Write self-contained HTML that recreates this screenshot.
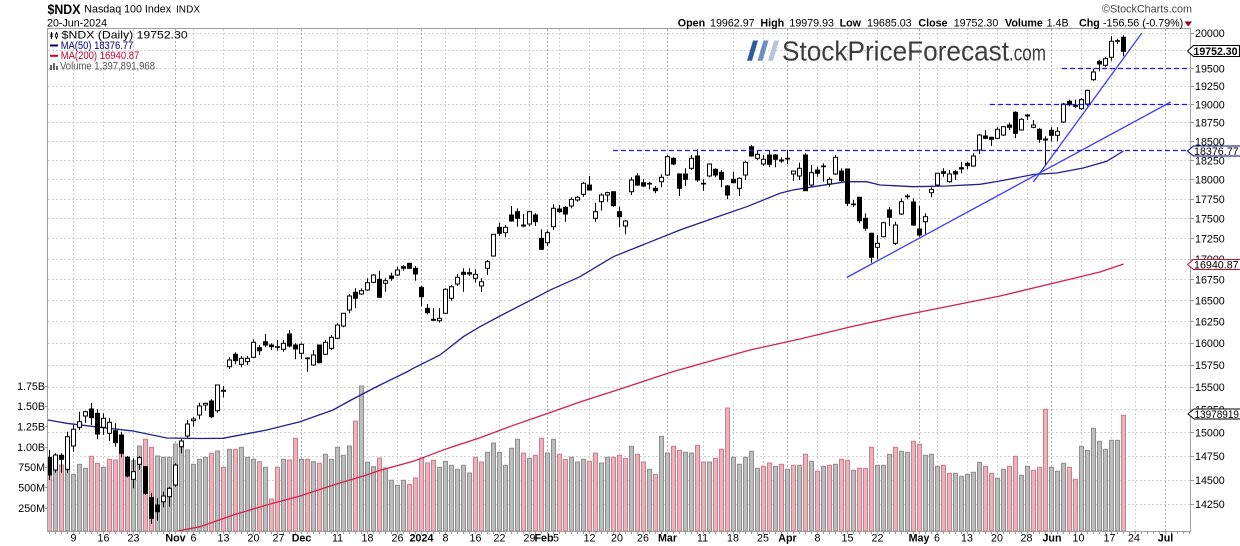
<!DOCTYPE html>
<html><head><meta charset="utf-8"><style>
html,body{margin:0;padding:0;background:#fff;}
svg{display:block;}
text{font-family:"Liberation Sans",Arial,sans-serif;font-size:10.7px;fill:#000;}
.b{font-weight:bold;}
.ax text{font-size:10.7px;}
</style></head><body>
<svg width="1240" height="546" viewBox="0 0 1240 546" xmlns="http://www.w3.org/2000/svg">
<defs><clipPath id="pc"><rect x="48" y="29" width="1142" height="502"/></clipPath></defs>
<rect width="1240" height="546" fill="#fff"/>
<g id="grid"></g>
<g clip-path="url(#pc)">
<g id="vol"></g>
<path d="M178,531 L200,526.7 L233.3,515 L266.7,505 L300,496 L333.3,485 L366.7,475 L380,470.3 L413.3,461.3 L446.7,448.7 L480,437.7 L513.3,425.3 L546.7,413.7 L580,402 L613.3,391.3 L646.7,380.3 L671.7,372 L700,364 L750,350 L800,339 L850,327 L900,316 L950,306 L1000,296 L1050,284 L1100,272 L1123.5,264" fill="none" stroke="#d81e4a" stroke-width="1.3"/>
<path d="M48,420 L66.7,423.3 L100,427.3 L133,431 L166.7,438 L200,438.5 L223,438.3 L266.7,430 L300,421.7 L333,410 L352,399.5 L380,385 L406.7,372 L413.3,368.3 L440,355 L463.3,336.7 L480,326.7 L500,316 L551.7,289.3 L580,276.7 L613.3,256.7 L646.7,243.3 L680,230 L713.3,218.3 L746.7,206.7 L780,193.3 L793,190 L813.3,186.7 L846.7,181.7 L866.7,181.7 L880,185 L913.3,186.7 L946.7,186 L980,184.3 L1000,181 L1033.3,174.5 L1056.7,173 L1083.3,168 L1106.7,161.3 L1123.5,151" fill="none" stroke="#202090" stroke-width="1.3"/>
<g id="cand"></g>
<line x1="846.7" y1="277.5" x2="1170.7" y2="102" stroke="#3b3bff" stroke-width="1.3"/>
<line x1="1033.3" y1="182" x2="1141.7" y2="33.3" stroke="#3b3bff" stroke-width="1.3"/>
<g stroke="#1a1aee" stroke-width="1.3" stroke-dasharray="5,3">
<line x1="1062" y1="68.5" x2="1190" y2="68.5"/>
<line x1="990" y1="104.5" x2="1190" y2="104.5"/>
<line x1="613" y1="150.5" x2="1190" y2="150.5"/>
</g>
</g>
<rect x="47.5" y="28.5" width="1143" height="503" fill="none" stroke="#a0a0a0"/>
<g id="ticks" stroke="#999"></g>

<!-- logo -->
<polygon points="747,60.7 752,60.7 758,40.5 753,40.5" fill="#2d5a9c"/>
<polygon points="757.5,60.7 762.5,60.7 768.5,40.5 763.5,40.5" fill="#6a8dc4"/>
<polygon points="768,60.7 773,60.7 779,40.5 774,40.5" fill="#b6c3da"/>
<text x="782" y="60.5" style="font-size:28px;fill:#3d3d3d" textLength="227" lengthAdjust="spacingAndGlyphs">StockPriceForecast</text>
<text x="1009" y="60.5" style="font-size:22px;fill:#3d3d3d" textLength="37" lengthAdjust="spacingAndGlyphs">.com</text>

<!-- header -->
<text x="47.5" y="14" class="b" style="font-size:14px" textLength="33" lengthAdjust="spacingAndGlyphs">$NDX</text>
<text x="84.3" y="12.7">Nasdaq 100 Index</text>
<text x="176" y="12.7" style="font-size:10px" textLength="24">INDX</text>
<text x="47" y="26.5">20-Jun-2024</text>
<text x="1102" y="12.7" style="fill:#444" textLength="90" lengthAdjust="spacingAndGlyphs">©StockCharts.com</text>
<text x="677.8" y="26.5" class="b">Open</text><text x="710" y="26.5">19962.97</text>
<text x="760.4" y="26.5" class="b">High</text><text x="789.4" y="26.5">19979.93</text>
<text x="839.6" y="26.5" class="b">Low</text><text x="867" y="26.5">19685.03</text>
<text x="918.4" y="26.5" class="b">Close</text><text x="953.7" y="26.5">19752.30</text>
<text x="1005" y="26.5" class="b">Volume</text><text x="1046.6" y="26.5">1.4B</text>
<text x="1079" y="26.5" class="b">Chg</text><text x="1103" y="26.5">-156.56 (-0.79%)</text>
<polygon points="1184.5,21.5 1192,21.5 1188.2,26.5" fill="#99001f"/>

<!-- legend -->
<line x1="51.5" y1="32" x2="51.5" y2="39" stroke="#000"/><rect x="50.5" y="33.5" width="2" height="3.5" fill="#000"/>
<line x1="56.5" y1="32" x2="56.5" y2="39" stroke="#000"/><rect x="55.5" y="34" width="2" height="3" fill="#fff" stroke="#000" stroke-width="0.8"/>
<text x="61.7" y="38.6" style="font-size:11px" textLength="126" lengthAdjust="spacingAndGlyphs">$NDX (Daily) 19752.30</text>
<rect x="50" y="44.5" width="8" height="2" fill="#000080"/>
<text x="60.7" y="48.8" style="fill:#000080" textLength="72.6" lengthAdjust="spacingAndGlyphs">MA(50) 18376.77</text>
<rect x="50" y="54.8" width="8" height="2" fill="#cc0033"/>
<text x="60.7" y="59" style="fill:#cc0033" textLength="78.6" lengthAdjust="spacingAndGlyphs">MA(200) 16940.87</text>
<rect x="50" y="65" width="2" height="5" fill="#666"/><rect x="53" y="63" width="2" height="7" fill="#666"/><rect x="56" y="66" width="2" height="4" fill="#666"/>
<text x="60" y="69.3" style="fill:#555" textLength="95" lengthAdjust="spacingAndGlyphs">Volume 1,397,891,968</text>

<!-- right axis -->
<g class="ax">
<text x="1195" y="37.1">20000</text>
<text x="1195" y="54.6">19750</text>
<text x="1195" y="72.3">19500</text>
<text x="1195" y="90.2">19250</text>
<text x="1195" y="108.3">19000</text>
<text x="1195" y="126.7">18750</text>
<text x="1195" y="145.4">18500</text>
<text x="1195" y="164.3">18250</text>
<text x="1195" y="183.4">18000</text>
<text x="1195" y="202.9">17750</text>
<text x="1195" y="222.6">17500</text>
<text x="1195" y="242.6">17250</text>
<text x="1195" y="262.8">17000</text>
<text x="1195" y="283.4">16750</text>
<text x="1195" y="304.3">16500</text>
<text x="1195" y="325.5">16250</text>
<text x="1195" y="347">16000</text>
<text x="1195" y="368.9">15750</text>
<text x="1195" y="391.1">15500</text>
<text x="1195" y="413.7">15250</text>
<text x="1195" y="436.7">15000</text>
<text x="1195" y="460">14750</text>
<text x="1195" y="483.8">14500</text>
<text x="1195" y="507.9">14250</text>
</g>
<polygon points="1187.5,51 1193.5,45.5 1239.5,45.5 1239.5,56.5 1193.5,56.5" fill="#fff" stroke="#000"/>
<text x="1193.5" y="55" class="b" textLength="44" lengthAdjust="spacingAndGlyphs">19752.30</text>
<polygon points="1187.5,151 1193.5,146 1241,146 1241,156 1193.5,156" fill="#fff" stroke="#000080"/>
<text x="1194" y="154.8">18376.77</text>
<polygon points="1187.5,264.5 1193.5,259.5 1241,259.5 1241,269.5 1193.5,269.5" fill="#fff" stroke="#c8102e"/>
<text x="1194" y="268.3">16940.87</text>
<polygon points="1188,414 1194,409 1241,409 1241,419 1194,419" fill="#fff" stroke="#000"/>
<text x="1194.5" y="417.8" textLength="44.5" lengthAdjust="spacingAndGlyphs">13978919</text>

<!-- left volume axis -->
<g class="ax" text-anchor="end">
<text x="45" y="389.8">1.75B</text>
<text x="45" y="410.1">1.50B</text>
<text x="45" y="430.5">1.25B</text>
<text x="45" y="450.8">1.00B</text>
<text x="45" y="471.1">750M</text>
<text x="45" y="491.5">500M</text>
<text x="45" y="511.8">250M</text>
</g>

<!-- x axis -->
<g class="ax" text-anchor="middle">
<text x="73.5" y="541.5">9</text>
<text x="103.5" y="541.5">16</text>
<text x="133.5" y="541.5">23</text>
<text x="175.5" y="541.5" class="b">Nov</text>
<text x="193.5" y="541.5">6</text>
<text x="223.5" y="541.5">13</text>
<text x="253.5" y="541.5">20</text>
<text x="278.5" y="541.5">27</text>
<text x="301.5" y="541.5" class="b">Dec</text>
<text x="337.5" y="541.5">11</text>
<text x="367.5" y="541.5">18</text>
<text x="397.5" y="541.5">26</text>
<text x="421.5" y="541.5" class="b">2024</text>
<text x="445.5" y="541.5">8</text>
<text x="475.5" y="541.5">16</text>
<text x="499.5" y="541.5">22</text>
<text x="529.5" y="541.5">29</text>
<text x="544" y="541.5" class="b">Feb</text>
<text x="556" y="541.5">5</text>
<text x="589.5" y="541.5">12</text>
<text x="617" y="541.5">20</text>
<text x="643" y="541.5">26</text>
<text x="667.5" y="541.5" class="b">Mar</text>
<text x="702.5" y="541.5">11</text>
<text x="733" y="541.5">18</text>
<text x="763" y="541.5">25</text>
<text x="787.5" y="541.5" class="b">Apr</text>
<text x="817.5" y="541.5">8</text>
<text x="847.5" y="541.5">15</text>
<text x="877.5" y="541.5">22</text>
<text x="919" y="541.5" class="b">May</text>
<text x="937" y="541.5">6</text>
<text x="967" y="541.5">13</text>
<text x="997" y="541.5">20</text>
<text x="1026.5" y="541.5">28</text>
<text x="1052" y="541.5" class="b">Jun</text>
<text x="1078.5" y="541.5">10</text>
<text x="1109.5" y="541.5">17</text>
<text x="1134" y="541.5">24</text>
<text x="1165.5" y="541.5" class="b">Jul</text>
</g>
</svg>
<script>
(function(){
var C=[
[457.3,475,450,480,1],[455,470,453.3,472.7,0],[455.3,459.3,453,472.7,1],[436.7,469.3,431.7,473.3,0],
[429.3,446,425,451.7,0],[421.7,427.3,411.7,430,0],[411.7,416,410.7,422.7,0],[409,417.7,403,425,1],[413.3,434,409.3,439.3,1],
[418.3,427.3,413.3,435,0],[422.3,433.3,418.3,440.7,0],[430.7,442.7,423.3,446.7,1],[435,453.3,431.7,457.3,1],[457.3,476,456,477.3,1],
[471.7,479.3,458.3,488.3,0],[457.7,464.3,456,470,0],[466.7,493.3,466,495,1],[497.7,518.3,492.7,524,1],[505,511.7,498.3,520.7,1],
[496,501.7,491.7,507.3,0],[488.3,496.7,486.7,506.7,0],[465,485,463.3,486.7,0],[441,446.7,439.3,453.3,0],[424,436,420,438.3,0],
[419,420.7,416.7,426.7,0],[406,415,402.7,419.3,0],[403.3,405,402.7,410.7,0],[401,416.7,399.3,418.3,1],[385,410.7,385,412.7,0],
[390.3,391.3,386,397.3,1],
[360,366.7,357.3,369,0],[354.3,360.7,352.3,364.3,1],[358.3,364.3,356,367.3,0],[358.3,361.7,356,365,0],[342.3,357.3,339.3,358.3,0],
[347.7,350.7,345,355,1],[341.7,345,334,347.3,1],[345,346.7,343.3,350,1],[346.7,347.3,340,350.7,1],[343.3,349.3,340,351.7,0],
[334,346,330,347.3,1],[345,349,343.3,359.3,1],[344.3,353.3,343.3,359.3,0],[358,358.7,357.3,371.7,1],[355,365,350,366,0],
[345,362.7,345,363.3,1],[342.3,354.3,340,355,0],[337.3,348.3,335,350,0],[325,338.3,323.3,339.3,0],[313.3,326,313.3,327.3,0],
[296,310,294,313.3,0],[292.3,298.3,288.3,308.3,1],[290.7,294,288.3,295,0],[282.7,290,278.3,290.7,0],[275,282.3,274,283.3,0],
[279.3,297.3,270.7,297.3,1],[280.7,283.3,278.3,291.7,0],[276,278.3,272.7,280.7,1],[270,275,266.7,276,0],[266.7,268.3,265,270.7,1],
[263.3,268.3,262.7,269,1],[268.3,274,266,280.7,1],[287.3,296.7,286,306,1],[308.3,312.7,304,314.3,1],[319.3,320.3,308.3,320.7,1],
[318.3,320.7,308.3,322.7,0],[289.3,313.3,288.3,314,0],[286.7,298.3,285,300.7,0],[277.3,284,274,286,0],[272.3,274.3,268.3,291.7,1],
[272.7,274,268.3,276,1],[274.3,278.3,269.3,282.7,0],[281.7,286,278.3,292,0],[261.7,268.3,260,275,0],[234.3,256,234.3,256.7,0],
[227.3,233.3,222.7,236,1],[227.3,232.7,225,237.3,0],[215,221,206,221.7,1],[211.7,218.3,208.3,226.7,1],[225,226,214,227.3,1],
[211.7,224,211,226,0],[215,221.7,213.3,226,1],[238.3,249.3,229.3,250,1],[232.7,242.7,230.7,246,0],[208.3,226.7,204.3,230,0],
[209,211.7,205,212.7,1],[207.3,214,206,221.7,1],[199.3,206,197.3,208.3,0],[197.3,200,196,201.7,0],[183.3,194.3,181.7,196.7,0],
[185,190,176,190.7,1],[211.7,218.3,202.7,221.7,0],[195,201.7,193.3,210.7,0],[192.7,195,191.7,201.7,0],[191.7,205.7,191.7,206.7,1],
[211.7,216.7,206.7,227.3,1],[221,226,220,234.3,0],[180,191.7,177.3,195,0],[176,185,173.3,186,1],[182.7,186,179.3,187.3,1],
[183.3,184,181.7,189.3,1],[188.3,190.7,186,193.3,1],[177.3,181.7,174.3,187.3,0],[156.7,175,155,176,0],[158.3,164,157.3,165,1],
[174,188.3,173.3,196,1],[174,179.3,168.3,186,1],[158.3,168.3,155,170,0],[156,180,149.3,181.7,1],[183.3,184,179.3,190.7,1],
[164,176,163.3,177.3,0],[169.3,175,168.3,177.3,1],[172.3,179.3,170,187.3,1],[186,195,185,199.3,1],[179.3,182.7,171.7,183.3,1],
[178.3,188.3,177.3,196,0],[162.3,175,160.7,180,0],[146.7,156,145,156.7,1],[154.3,158.3,150,160,0],[159.3,164,155,166,0],
[155,164.3,150,167.3,1],[155,159.3,154,167.3,1],[160,161,157.3,162.7,1],[158.3,159,150,164,1],[171,174,170.7,180.7,0],
[168.3,176,162.7,180,0],[155,190.7,153.3,190.7,1],[172.7,185,165,186.7,0],[170,173.3,166.7,176.7,1],[166,166.7,163.3,181.7,1],
[179.3,184,177.3,186.7,0],[157.3,174,155,175,0],[171,180.7,168.3,181.7,1],[169,203.3,169,206,1],[204,204.7,200,206.7,1],
[197.3,220.7,196.7,223.3,1],[218.3,228.3,213.3,230.7,1],[233.3,257.3,232.7,262.7,1],[243.3,247.3,235,259.3,0],[222.7,236.7,221.7,237.3,0],
[210,217.3,207.3,226,1],[225,243.3,221.7,245,0],[201.7,214,198.3,215,0],[196,196.7,194,199.3,1],[202,225,198.3,226,1],
[229,235,206,236.7,1],[216.7,221.7,213.3,234,0],[189.3,192.7,187.3,197.3,0],[173.3,185,172.7,186,0],[171.7,173.3,168.3,176.7,1],
[174,181.7,170,182.7,0],[171.7,174,170,180,1],[167.7,169,161.7,173.3,1],[163.3,165.7,161.7,169.3,1],[156,166,153.3,166.7,0],
[135,150,134,154,0],[136,138.3,130,139.3,1],[137.3,139.3,136.7,146,1],[129.3,138.3,127.3,139.3,0],[126.7,135,126,136,0],
[125,127.3,122.7,130,1],[112.3,133.3,111.3,138.3,1],[119.3,130,118.3,130.7,0],[115,116,114,120,1],[125,127.3,120,128.3,0],
[129.3,139.3,128.3,142.7,1],[139,140,136.3,166,1],[130.3,135.3,127.3,141.3,1],[131.3,135.3,127.3,141.3,0],
[104,122,103,123,0],[101.3,104.7,99.7,106.3,1],[105.3,106.3,99.7,108,1],[99.7,108.7,98,109.7,0],[90.3,104,89.7,106.3,0],
[72,79.7,68.7,80.7,0],[61.3,64,59.7,71.3,1],[58.7,65.3,57.3,67.3,0],[41.3,57.3,36.3,60.7,0],[40.7,41.3,38.7,44,1],[37.3,51.3,35.3,56.3,1]
];
var V=[463,465,465,455.3,474.3,464.3,468.3,456.3,463.3,467.3,459.3,460,452,457.3,460.7,446,439.3,447.3,456,457.3,457.3,444,447.3,450,464.3,459.3,457.3,453.3,451,467.3,
449.3,449.3,447.3,457.3,459.3,461.7,467.3,499,467.3,459.3,460,438.3,459.3,459.3,461.7,463.3,454.3,459.3,447.3,455.3,446,421,386,462.3,466.7,
458,468,480.3,485.3,480.3,484.3,478,458,463,460.3,467.3,461.3,465.3,469.3,465.3,473,457.3,462,452.3,443,452.3,465.3,448.3,439.3,453,458.3,455.3,438.3,
453,439.3,454.3,459.3,457.3,462,459.3,461.3,453,463,457.3,457.3,455.3,458.3,446.3,454.3,462,469.3,474.3,436.3,453,446.3,450.3,452.3,453,445.3,
462,462,458.3,449.3,408,457.3,464.3,457.3,451.3,468.3,466.3,463,466.3,464.3,469.3,465.3,465.3,454.3,461.3,471.3,466.3,465.3,464.3,459.3,460.3,
470.3,468.3,468.3,447.3,465.3,465.3,454.3,447.3,451.3,452.3,441.3,444.3,455.3,454.3,466.3,465.3,473.3,473.3,476.3,474.3,472.3,462.3,466.3,473.3,
478.3,469.3,466.3,456.3,475.3,466.3,470.3,467.3,409.3,467.3,471.3,463.3,467.3,479.3,446.3,450.3,428.3,441.3,449.3,440.3,440.3,415.3];
var VC="pggggppppp"+"ggggggppgg"+"ggggpgppgg"+"ppgggppggp"+"ppgppgpggp"+"pggppgpppg"+"ggggppgpgp"+"gpgpgpgppg"+"pppgggpggp"+"pgggppgggg"+"gppggppggp"+"ppgggppggg"+"ggggp";
var v='',s='';
function cl(c){return c[4]?c[1]:c[0];}
for(var k=0;k<C.length;k++){
 var i=k-4,x=73.5+6*i,c=C[k],pink;
 if(i>=51)pink=VC.charAt(i-51)=='p';
 else if(k==0)pink=true;
 else pink=cl(c)>cl(C[k-1])+0.2;
 var t=V[k];
 v+='<rect x="'+(x-2)+'" y="'+t+'" width="4" height="'+(531-t)+'" fill="'+(pink?'#e8b4bb':'#bdbdbd')+'" stroke="'+(pink?'#d27b8a':'#8e8e8e')+'"/>';
 s+='<line x1="'+x+'" x2="'+x+'" y1="'+c[2]+'" y2="'+c[3]+'" stroke="#000"/>';
 var h=Math.max(c[1]-c[0],0.6);
 s+='<rect x="'+(x-2)+'" y="'+c[0]+'" width="4" height="'+h+'" fill="'+(c[4]?'#000':'#fff')+'" stroke="#000"/>';
}
document.getElementById('vol').innerHTML=v;
document.getElementById('cand').innerHTML=s;
var g='';
var hy=[33.5,50.5,68.5,86.5,104.5,122.5,141.5,160.5,179.5,199.5,218.5,238.5,259.5,279.5,300.5,321.5,343.5,365.5,387.5,409.5,432.5,456.5,480.5,504.5];
for(var j=0;j<hy.length;j++){g+='<line x1="48" x2="1190" y1="'+hy[j]+'" y2="'+hy[j]+'" stroke="#d2d2d2" stroke-dasharray="2,2"/>';}
var vx=[73.5,103.5,133.5,193.5,223.5,253.5,277.5,337.5,367.5,397.5,445.5,475.5,499.5,529.5,559.5,589.5,619.5,643.5,703.5,733.5,763.5,817.5,847.5,877.5,937.5,967.5,997.5,1027.5,1081.5,1111.5,1135.5];
var mx=[175.5,301.5,421.5,547.5,667.5,787.5,919.5,1051.5,1165.5];
for(var j=0;j<vx.length;j++){g+='<line x1="'+vx[j]+'" x2="'+vx[j]+'" y1="29" y2="531" stroke="#d2d2d2" stroke-dasharray="2,2"/>';}
for(var j=0;j<mx.length;j++){g+='<line x1="'+mx[j]+'" x2="'+mx[j]+'" y1="29" y2="531" stroke="#a8a8a8" stroke-dasharray="2,2"/>';}
document.getElementById('grid').innerHTML=g;
var tk='';
for(var i=-4;i<=186;i++){var x=73.5+6*i;if(x<1190)tk+='<line x1="'+x+'" x2="'+x+'" y1="531.5" y2="534"/>';}
for(var j=0;j<hy.length;j++){tk+='<line x1="1190.5" x2="1194" y1="'+hy[j]+'" y2="'+hy[j]+'"/>';}
var ly=[386.5,406.5,426.5,447.5,467.5,487.5,508.5];
for(var j=0;j<ly.length;j++){tk+='<line x1="45" x2="48" y1="'+ly[j]+'" y2="'+ly[j]+'"/>';}
document.getElementById('ticks').innerHTML=tk;
})();
</script>
</body></html>
